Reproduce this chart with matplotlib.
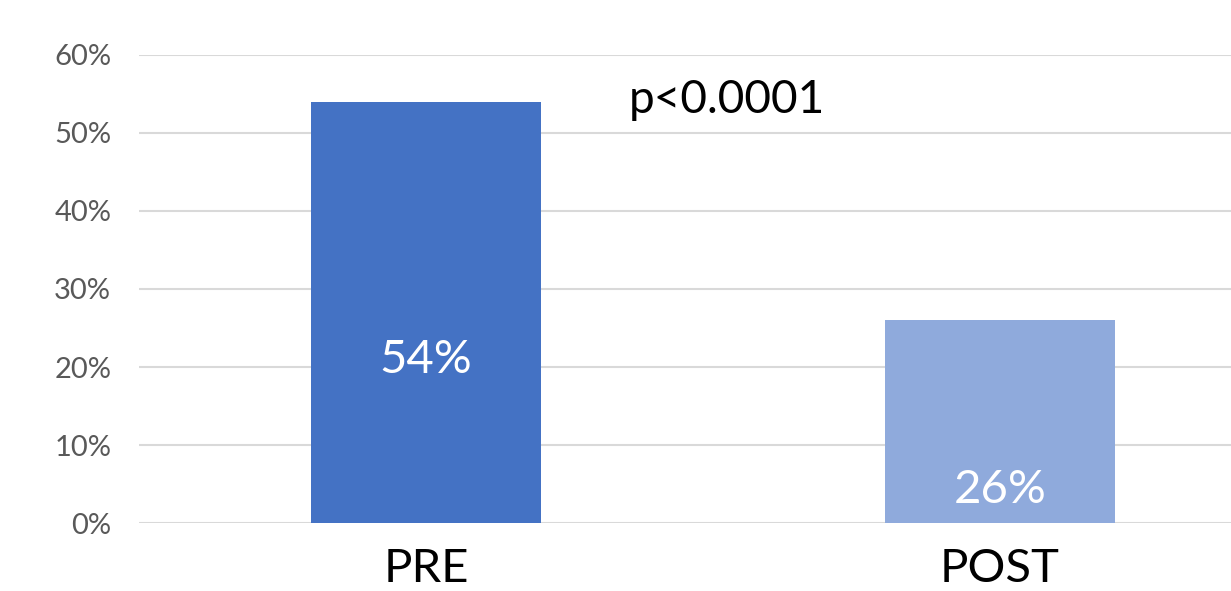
import matplotlib
matplotlib.use('Agg')
import matplotlib.pyplot as plt
from matplotlib.ticker import PercentFormatter

plt.rcParams['font.family'] = ['Lato', 'DejaVu Sans']

categories = ['PRE', 'POST']
values = [54, 26]
bar_labels = ['54%', '26%']
label_y = [20.9, 4.2]
colors = ['#4472C4', '#8FAADC']

fig = plt.figure(figsize=(12.31, 5.91), dpi=100)
ax = fig.add_axes([0.1129, 0.115, 0.9326, 0.792])

x = range(len(categories))
ax.bar(x, values, width=0.4, color=colors, zorder=2)

for i, (lab, ly) in enumerate(zip(bar_labels, label_y)):
    ax.text(i, ly, lab, ha='center', va='center', color='white', fontsize=34)

ax.text(0.524, 54.2, 'p<0.0001', ha='center', va='center', color='black', fontsize=33)

ax.set_xlim(-0.5, 1.5)
ax.set_ylim(0, 60)
ax.set_yticks(range(0, 61, 10))
ax.yaxis.set_major_formatter(PercentFormatter(decimals=0))
ax.set_xticks(list(x))
ax.set_xticklabels(categories)
ax.grid(axis='y', color='#D9D9D9', linewidth=1.5, zorder=0)
ax.set_axisbelow(True)
for s in ax.spines.values():
    s.set_visible(False)
ax.tick_params(axis='y', length=0, pad=20, labelsize=21, labelcolor='#595959')
ax.tick_params(axis='x', length=0, pad=18, labelsize=34, labelcolor='black')

fig.savefig('out.png', dpi=100)
